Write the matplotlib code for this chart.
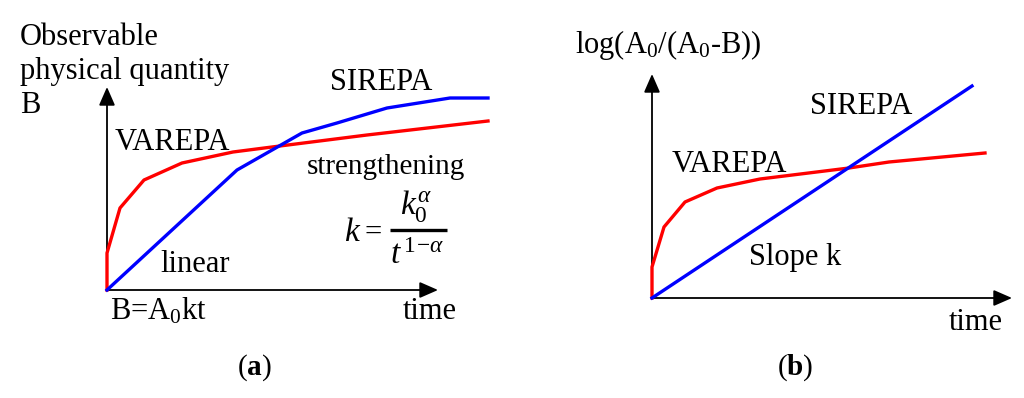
import numpy as np
import matplotlib
matplotlib.use("Agg")
import matplotlib.pyplot as plt

plt.rcParams['font.family'] = ['Liberation Serif', 'DejaVu Serif']
plt.rcParams['mathtext.fontset'] = 'custom'
plt.rcParams['mathtext.rm'] = 'Liberation Serif'
plt.rcParams['mathtext.it'] = 'Liberation Serif:italic'
plt.rcParams['mathtext.bf'] = 'Liberation Serif:bold'

# panel (a): observable quantity vs time (arbitrary units)
varepa_a_t = [0, 0, 13, 37, 75, 126, 165, 260, 381]
varepa_a_b = [0, 37, 82, 110, 127, 138, 143, 155, 169]
sirepa_a_t = [0, 130, 195, 230, 280, 343, 381]
sirepa_a_b = [0, 120, 157, 167, 182, 192, 192]

# panel (b): log(A0/(A0-B)) vs time
varepa_b_t = [0, 0, 12, 33, 65, 108, 197, 237, 333]
varepa_b_y = [0, 31, 71, 96, 110, 119, 130, 136, 145]
sirepa_b_t = [0, 320]
sirepa_b_y = [0, 212]

RED = '#ff0000'
BLUE = '#0000ff'
FS = 22

fig = plt.figure(figsize=(10.24, 3.98), dpi=100)
ax1 = fig.add_axes([0, 0, 0.5, 1])
ax2 = fig.add_axes([0.5, 0, 0.5, 1])

# 1 data unit = 1 pixel, origin at the corner of the drawn axes
ax1.set_xlim(-107, 405)
ax1.set_ylim(-108, 290)
ax2.set_xlim(-140, 372)
ax2.set_ylim(-100, 298)


def draw_axes(ax, xend, yend):
    kw = dict(arrowstyle='-|>,head_length=0.8,head_width=0.35', color='black',
              lw=1.3, shrinkA=0, shrinkB=0, mutation_scale=14)
    ax.annotate('', xy=(xend, 0), xytext=(0, 0), arrowprops=kw)
    ax.annotate('', xy=(0, yend), xytext=(0, 0), arrowprops=kw)


def txt(ax, x, y, s, size=FS, **kw):
    ax.text(x, y, s, fontsize=size, ha=kw.pop('ha', 'left'),
            va=kw.pop('va', 'baseline'), **kw)


for ax in (ax1, ax2):
    ax.axis('off')

# ---- (a)
draw_axes(ax1, 331, 203)
ax1.plot(varepa_a_t, varepa_a_b, color=RED, lw=2.4, zorder=3)
ax1.plot(sirepa_a_t, sirepa_a_b, color=BLUE, lw=2.4, zorder=3)

txt(ax1, -87, 245, 'Observable')
txt(ax1, -87, 211, 'physical quantity')
txt(ax1, -87, 177, 'B')
txt(ax1, 223, 200, 'SIREPA')
txt(ax1, 8, 140, 'VAREPA')
txt(ax1, 200, 116, 'strengthening', size=FS - 1)
txt(ax1, 53, 18, 'linear')
txt(ax1, 3, -30, r'B=A$_0$kt')
txt(ax1, 296, -29, 'time')

# k = k0^a / t^(1-a)
txt(ax1, 246, 57, r'$k$', size=24, ha='center', va='center')
txt(ax1, 264, 58, r'$=$', size=22, ha='center', va='center')
ax1.plot([283, 340], [60, 60], color='black', lw=2.4, solid_capstyle='butt')
txt(ax1, 309, 84, r'$k_0^{\alpha}$', size=24, ha='center', va='center')
txt(ax1, 310, 34, r'$t^{\,1\!-\!\alpha}$', size=24, ha='center', va='center')

txt(ax1, 147, -78, r'($\mathbf{a}$)', size=21, ha='center', va='center')

# ---- (b)
draw_axes(ax2, 360, 224)
ax2.plot(varepa_b_t, varepa_b_y, color=RED, lw=2.4, zorder=3)
ax2.plot(sirepa_b_t, sirepa_b_y, color=BLUE, lw=2.4, zorder=3)

txt(ax2, -77, 245, r'log(A$_0$/(A$_0$-B))')
txt(ax2, 158, 184, 'SIREPA')
txt(ax2, 20, 126, 'VAREPA')
txt(ax2, 97, 33, 'Slope k')
txt(ax2, 297, -32, 'time')
txt(ax2, 143, -70, r'($\mathbf{b}$)', size=21, ha='center', va='center')

fig.savefig('out.png', dpi=100)
